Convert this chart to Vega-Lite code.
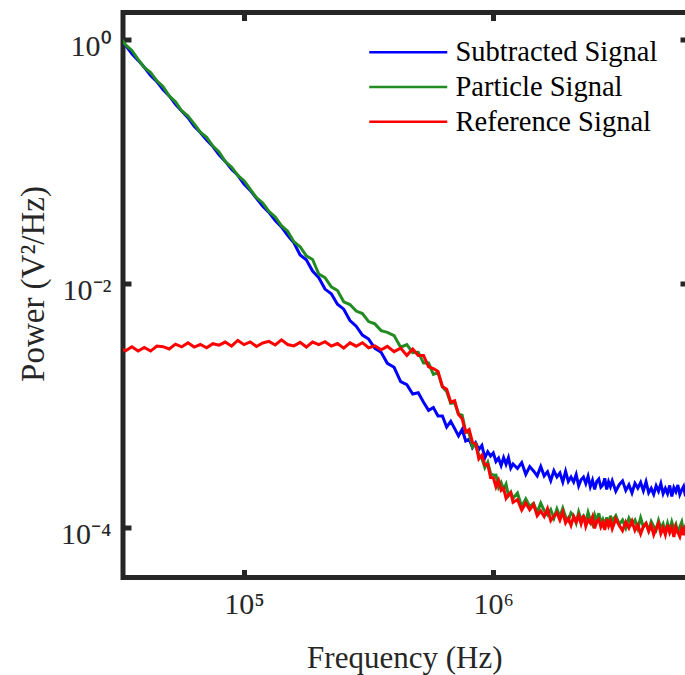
{
"$schema":"https://vega.github.io/schema/vega-lite/v6.json",
"width":565,"height":565,
"autosize":{"type":"none"},
"padding":{"left":123,"top":12.5,"right":0,"bottom":97.5},
"background":"white",
"config":{
"view":{"stroke":"#262626","strokeWidth":5},
"font":"Liberation Serif",
"axis":{"labelFont":"Liberation Serif","titleFont":"Liberation Serif","labelColor":"#262626","titleColor":"#262626","domain":false,"grid":false,"tickColor":"#262626","tickWidth":5,"tickSize":-8,"labelFontSize":30,"titleFontSize":31,"titleFontWeight":"normal","labelOverlap":false,"labelBound":false,"labelFlush":false}
},
"data":{"values":[
{"f":31600,"a":1.012,"b":1.064,"c":0.00299},
{"f":33500,"a":0.895,"b":0.902,"c":0.00282},
{"f":35500,"a":0.764,"b":0.813,"c":0.00305},
{"f":37600,"a":0.675,"b":0.687,"c":0.00281},
{"f":39800,"a":0.592,"b":0.590,"c":0.00301},
{"f":42200,"a":0.507,"b":0.536,"c":0.00281},
{"f":44700,"a":0.452,"b":0.459,"c":0.00309},
{"f":47300,"a":0.389,"b":0.412,"c":0.00305},
{"f":50100,"a":0.345,"b":0.345,"c":0.00292},
{"f":53100,"a":0.295,"b":0.309,"c":0.00320},
{"f":56200,"a":0.260,"b":0.261,"c":0.00304},
{"f":59600,"a":0.229,"b":0.236,"c":0.00329},
{"f":63100,"a":0.195,"b":0.204,"c":0.00303},
{"f":66800,"a":0.173,"b":0.174,"c":0.00318},
{"f":70800,"a":0.150,"b":0.158,"c":0.00299},
{"f":75000,"a":0.133,"b":0.134,"c":0.00323},
{"f":79400,"a":0.114,"b":0.120,"c":0.00314},
{"f":84100,"a":0.1005,"b":0.100,"c":0.00333},
{"f":89100,"a":0.0865,"b":0.0902,"c":0.00308},
{"f":94400,"a":0.0773,"b":0.0771,"c":0.00343},
{"f":100000,"a":0.0656,"b":0.0698,"c":0.00317},
{"f":105900,"a":0.0581,"b":0.0594,"c":0.00334},
{"f":112200,"a":0.0500,"b":0.0508,"c":0.00306},
{"f":118900,"a":0.0432,"b":0.0459,"c":0.00327},
{"f":125900,"a":0.0384,"b":0.0391,"c":0.00337},
{"f":133400,"a":0.0330,"b":0.0352,"c":0.00315},
{"f":141300,"a":0.0292,"b":0.0299,"c":0.00347},
{"f":149600,"a":0.0249,"b":0.0269,"c":0.00318},
{"f":158500,"a":0.0216,"b":0.0221,"c":0.00310},
{"f":167900,"a":0.0172,"b":0.0201,"c":0.00331},
{"f":177800,"a":0.0157,"b":0.0169,"c":0.00303},
{"f":188400,"a":0.0127,"b":0.0158,"c":0.00333},
{"f":199500,"a":0.0112,"b":0.0120,"c":0.00317},
{"f":211300,"a":0.00904,"b":0.0112,"c":0.00335},
{"f":223900,"a":0.00828,"b":0.00942,"c":0.00309},
{"f":237100,"a":0.00679,"b":0.00879,"c":0.00324},
{"f":251200,"a":0.00619,"b":0.00711,"c":0.00297},
{"f":266100,"a":0.00500,"b":0.00676,"c":0.00328},
{"f":281800,"a":0.00449,"b":0.00597,"c":0.00308},
{"f":298500,"a":0.00380,"b":0.00570,"c":0.00329},
{"f":316200,"a":0.00352,"b":0.00490,"c":0.00299},
{"f":335000,"a":0.00296,"b":0.00469,"c":0.00310},
{"f":354800,"a":0.00275,"b":0.00413,"c":0.00288},
{"f":375800,"a":0.00223,"b":0.00400,"c":0.00307},
{"f":400000,"a":2.07e-3,"b":3.76e-3,"c":2.78e-3},
{"f":425000,"a":1.58e-3,"b":3.02e-3,"c":2.97e-3},
{"f":450000,"a":1.49e-3,"b":3.17e-3,"c":2.59e-3},
{"f":475000,"a":1.25e-3,"b":2.73e-3,"c":2.92e-3},
{"f":500000,"a":1.28e-3,"b":2.75e-3,"c":2.59e-3},
{"f":525000,"a":1.07e-3,"b":2.24e-3,"c":2.59e-3},
{"f":550000,"a":9.18e-4,"b":2.24e-3,"c":2.09e-3},
{"f":575000,"a":9.69e-4,"b":1.81e-3,"c":2.02e-3},
{"f":600000,"a":8.27e-4,"b":1.87e-3,"c":1.91e-3},
{"f":625000,"a":8.26e-4,"b":1.43e-3,"c":1.44e-3},
{"f":650000,"a":6.71e-4,"b":1.31e-3,"c":1.37e-3},
{"f":675000,"a":7.48e-4,"b":1.05e-3,"c":1.07e-3},
{"f":700000,"a":6.51e-4,"b":1.06e-3,"c":1.10e-3},
{"f":725000,"a":5.68e-4,"b":8.53e-4,"c":8.52e-4},
{"f":750000,"a":6.41e-4,"b":8.38e-4,"c":7.83e-4},
{"f":775000,"a":5.16e-4,"b":6.14e-4,"c":6.09e-4},
{"f":800000,"a":5.35e-4,"b":5.97e-4,"c":6.39e-4},
{"f":825000,"a":4.55e-4,"b":4.58e-4,"c":5.04e-4},
{"f":850000,"a":4.99e-4,"b":4.88e-4,"c":4.87e-4},
{"f":875000,"a":4.39e-4,"b":3.93e-4,"c":3.68e-4},
{"f":900000,"a":4.74e-4,"b":3.71e-4,"c":3.95e-4},
{"f":925000,"a":3.75e-4,"b":3.12e-4,"c":3.29e-4},
{"f":950000,"a":4.21e-4,"b":3.46e-4,"c":3.31e-4},
{"f":975000,"a":3.88e-4,"b":2.80e-4,"c":2.59e-4},
{"f":1000000,"a":4.11e-4,"b":2.70e-4,"c":2.58e-4},
{"f":1025000,"a":3.50e-4,"b":2.71e-4,"c":2.17e-4},
{"f":1050000,"a":3.73e-4,"b":2.15e-4,"c":2.45e-4},
{"f":1075000,"a":3.25e-4,"b":2.36e-4,"c":2.03e-4},
{"f":1100000,"a":3.77e-4,"b":2.07e-4,"c":2.11e-4},
{"f":1125000,"a":3.32e-4,"b":2.28e-4,"c":1.75e-4},
{"f":1150000,"a":3.77e-4,"b":1.84e-4,"c":1.87e-4},
{"f":1175000,"a":3.09e-4,"b":1.96e-4,"c":1.95e-4},
{"f":1200000,"a":3.34e-4,"b":1.75e-4,"c":1.62e-4},
{"f":1250000,"a":3.07e-4,"b":1.93e-4,"c":1.71e-4},
{"f":1300000,"a":3.43e-4,"b":1.50e-4,"c":1.40e-4},
{"f":1350000,"a":2.75e-4,"b":1.73e-4,"c":1.60e-4},
{"f":1400000,"a":3.18e-4,"b":1.50e-4,"c":1.41e-4},
{"f":1450000,"a":2.93e-4,"b":1.59e-4,"c":1.56e-4},
{"f":1500000,"a":2.67e-4,"b":1.34e-4,"c":1.26e-4},
{"f":1550000,"a":3.18e-4,"b":1.60e-4,"c":1.38e-4},
{"f":1600000,"a":2.67e-4,"b":1.39e-4,"c":1.24e-4},
{"f":1650000,"a":2.89e-4,"b":1.28e-4,"c":1.44e-4},
{"f":1700000,"a":2.44e-4,"b":1.41e-4,"c":1.15e-4},
{"f":1750000,"a":2.94e-4,"b":1.20e-4,"c":1.25e-4},
{"f":1800000,"a":2.62e-4,"b":1.43e-4,"c":1.33e-4},
{"f":1850000,"a":2.82e-4,"b":1.24e-4,"c":1.16e-4},
{"f":1900000,"a":2.38e-4,"b":1.45e-4,"c":1.35e-4},
{"f":1950000,"a":2.91e-4,"b":1.23e-4,"c":1.10e-4},
{"f":2000000,"a":2.40e-4,"b":1.15e-4,"c":1.20e-4},
{"f":2050000,"a":2.61e-4,"b":1.33e-4,"c":1.05e-4},
{"f":2100000,"a":2.38e-4,"b":1.26e-4,"c":1.24e-4},
{"f":2150000,"a":2.74e-4,"b":1.10e-4,"c":1.12e-4},
{"f":2200000,"a":2.21e-4,"b":1.35e-4,"c":1.26e-4},
{"f":2250000,"a":2.48e-4,"b":1.16e-4,"c":1.08e-4},
{"f":2300000,"a":2.61e-4,"b":1.25e-4,"c":1.27e-4},
{"f":2350000,"a":2.31e-4,"b":1.11e-4,"c":1.03e-4},
{"f":2400000,"a":2.65e-4,"b":1.34e-4,"c":1.17e-4},
{"f":2450000,"a":2.18e-4,"b":1.17e-4,"c":1.10e-4},
{"f":2500000,"a":2.46e-4,"b":1.07e-4,"c":1.23e-4},
{"f":2550000,"a":2.07e-4,"b":1.28e-4,"c":9.91e-5},
{"f":2600000,"a":2.40e-4,"b":1.14e-4,"c":1.14e-4},
{"f":2650000,"a":2.52e-4,"b":1.32e-4,"c":1.18e-4},
{"f":2700000,"a":2.16e-4,"b":1.09e-4,"c":1.02e-4},
{"f":2750000,"a":2.25e-4,"b":1.18e-4,"c":1.10e-4},
{"f":2800000,"a":2.55e-4,"b":1.06e-4,"c":9.64e-5},
{"f":2850000,"a":2.07e-4,"b":1.22e-4,"c":1.18e-4},
{"f":2900000,"a":2.39e-4,"b":1.03e-4,"c":1.04e-4},
{"f":2950000,"a":2.18e-4,"b":1.26e-4,"c":1.14e-4},
{"f":3000000,"a":2.43e-4,"b":1.14e-4,"c":9.86e-5},
{"f":3100000,"a":2.00e-4,"b":1.26e-4,"c":1.19e-4},
{"f":3200000,"a":2.26e-4,"b":1.07e-4,"c":1.05e-4},
{"f":3300000,"a":2.43e-4,"b":1.16e-4,"c":9.51e-5},
{"f":3400000,"a":2.03e-4,"b":9.98e-5,"c":1.12e-4},
{"f":3500000,"a":2.26e-4,"b":1.20e-4,"c":1.00e-4},
{"f":3600000,"a":1.94e-4,"b":1.07e-4,"c":1.14e-4},
{"f":3700000,"a":2.32e-4,"b":1.16e-4,"c":9.55e-5},
{"f":3800000,"a":2.12e-4,"b":9.89e-5,"c":1.06e-4},
{"f":3900000,"a":2.36e-4,"b":1.21e-4,"c":8.95e-5},
{"f":4000000,"a":2.02e-4,"b":1.02e-4,"c":1.03e-4},
{"f":4100000,"a":2.39e-4,"b":1.09e-4,"c":1.09e-4},
{"f":4200000,"a":1.94e-4,"b":9.53e-5,"c":9.40e-5},
{"f":4300000,"a":2.11e-4,"b":1.13e-4,"c":1.05e-4},
{"f":4400000,"a":1.89e-4,"b":1.03e-4,"c":8.81e-5},
{"f":4500000,"a":2.21e-4,"b":9.62e-5,"c":9.93e-5},
{"f":4600000,"a":2.00e-4,"b":1.15e-4,"c":1.09e-4},
{"f":4700000,"a":2.31e-4,"b":9.95e-5,"c":9.00e-5},
{"f":4800000,"a":1.91e-4,"b":1.08e-4,"c":1.00e-4},
{"f":4900000,"a":2.11e-4,"b":9.16e-5,"c":8.79e-5},
{"f":5000000,"a":1.91e-4,"b":1.09e-4,"c":1.06e-4},
{"f":5100000,"a":2.23e-4,"b":9.51e-5,"c":9.16e-5},
{"f":5200000,"a":1.81e-4,"b":1.12e-4,"c":1.01e-4},
{"f":5300000,"a":2.14e-4,"b":9.84e-5,"c":8.45e-5},
{"f":5400000,"a":1.98e-4,"b":1.07e-4,"c":1.02e-4},
{"f":5500000,"a":2.25e-4,"b":9.00e-5,"c":9.25e-5},
{"f":5600000,"a":1.88e-4,"b":1.02e-4,"c":8.51e-5},
{"f":5700000,"a":2.05e-4,"b":1.12e-4,"c":9.84e-5},
{"f":5800000,"a":2.19e-4,"b":9.16e-5,"c":8.73e-5},
{"f":5900000,"a":1.82e-4,"b":1.03e-4,"c":1.04e-4},
{"f":6000000,"a":2.09e-4,"b":9.38e-5,"c":8.79e-5},
{"f":6100000,"a":1.91e-4,"b":1.09e-4,"c":9.48e-5},
{"f":6200000,"a":2.24e-4,"b":8.95e-5,"c":8.47e-5},
{"f":6300000,"a":1.88e-4,"b":9.66e-5,"c":1.00e-4}
]},
"resolve":{"axis":{"x":"independent","y":"independent"}},
"layer":[
{"mark":{"type":"line","strokeWidth":3,"clip":true},
 "encoding":{
  "x":{"field":"f","type":"quantitative","scale":{"type":"log","domain":[32700,6040000],"nice":false},
       "axis":{"orient":"bottom","values":[100000,1000000],"labelExpr":"datum.value < 500000 ? '10⁵' : '10⁶'","title":"Frequency (Hz)","labelPadding":44,"labelBaseline":"alphabetic","titleY":89.5,"titleX":281.3,"titleBaseline":"alphabetic"}},
  "y":{"field":"a","type":"quantitative","scale":{"type":"log","domain":[3.93e-5,1.664],"nice":false},
       "axis":{"orient":"left","values":[1,0.01,0.0001],"labelExpr":"datum.value > 0.1 ? '10⁰' : (datum.value > 0.001 ? '10⁻²' : '10⁻⁴')","title":"Power (V²/Hz)","titleFontSize":33,"labelPadding":20,"labelBaseline":"alphabetic","labelOffset":16,"titleX":-79.7,"titleY":271,"titleAngle":270,"titleBaseline":"alphabetic"}},
  "color":{"datum":"Subtracted Signal","type":"nominal",
       "scale":{"domain":["Subtracted Signal","Particle Signal","Reference Signal"],"range":["#0000ff","#228b22","#ff0000"]},
       "legend":{"orient":"none","legendX":271,"legendY":25.5,"title":null,"symbolType":"M-3.9,0H3.9","symbolSize":400,"symbolStrokeWidth":2.5,"labelFont":"Liberation Serif","labelFontSize":28.5,"labelColor":"#000000","labelOffset":33,"rowPadding":5.7,"padding":0,"labelLimit":0}}
 }},
{"mark":{"type":"line","strokeWidth":3,"clip":true},
 "encoding":{
  "x":{"field":"f","type":"quantitative","scale":{"type":"log","domain":[32700,6040000],"nice":false},"axis":null},
  "y":{"field":"b","type":"quantitative","scale":{"type":"log","domain":[3.93e-5,1.664],"nice":false},"axis":null},
  "color":{"datum":"Particle Signal","type":"nominal"}
 }},
{"mark":{"type":"line","strokeWidth":3,"clip":true},
 "encoding":{
  "x":{"field":"f","type":"quantitative","scale":{"type":"log","domain":[32700,6040000],"nice":false},"axis":null},
  "y":{"field":"c","type":"quantitative","scale":{"type":"log","domain":[3.93e-5,1.664],"nice":false},"axis":null},
  "color":{"datum":"Reference Signal","type":"nominal"}
 }},
{"mark":{"type":"point","opacity":0},
 "encoding":{
  "x":{"field":"f","type":"quantitative","scale":{"type":"log","domain":[32700,6040000],"nice":false},"axis":{"orient":"top","values":[100000,1000000],"labels":false,"title":null}},
  "y":{"field":"a","type":"quantitative","scale":{"type":"log","domain":[3.93e-5,1.664],"nice":false},"axis":{"orient":"right","values":[1,0.01,0.0001],"labels":false,"title":null}}
 }}
]
}
